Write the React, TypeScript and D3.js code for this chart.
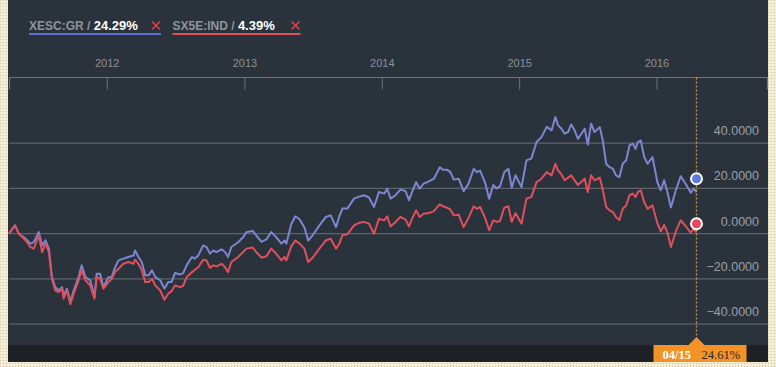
import React from 'react';
import * as d3 from 'd3';

// weekly-ish closes, % change since 2011-04-15
const dates = [
  '2011-04-15', '2011-05-01', '2011-05-11', '2011-05-29', '2011-06-11', '2011-06-20', '2011-07-03', '2011-07-12',
  '2011-07-21', '2011-07-30', '2011-08-07', '2011-08-16', '2011-08-25', '2011-09-03', '2011-09-07', '2011-09-16',
  '2011-09-25', '2011-10-04', '2011-10-17', '2011-10-25', '2011-11-04', '2011-11-17', '2011-11-28', '2011-12-04',
  '2011-12-13', '2011-12-22', '2012-01-04', '2012-01-13', '2012-01-22', '2012-01-31', '2012-02-13', '2012-02-26',
  '2012-03-11', '2012-03-15', '2012-03-24', '2012-04-02', '2012-04-11', '2012-04-20', '2012-04-29', '2012-05-08',
  '2012-05-21', '2012-06-01', '2012-06-11', '2012-06-20', '2012-06-29', '2012-07-13', '2012-07-21', '2012-07-30',
  '2012-08-13', '2012-08-21', '2012-08-30', '2012-09-12', '2012-09-21', '2012-09-30', '2012-10-09', '2012-10-17',
  '2012-10-31', '2012-11-09', '2012-11-17', '2012-11-26', '2012-12-14', '2012-12-27', '2013-01-05', '2013-01-22',
  '2013-01-31', '2013-02-14', '2013-02-27', '2013-03-12', '2013-03-25', '2013-04-08', '2013-04-16', '2013-04-21',
  '2013-05-04', '2013-05-15', '2013-05-26', '2013-06-08', '2013-06-18', '2013-06-30', '2013-07-18', '2013-08-04',
  '2013-08-17', '2013-08-31', '2013-09-09', '2013-09-17', '2013-09-30', '2013-10-18', '2013-10-31', '2013-11-14',
  '2013-11-27', '2013-12-10', '2013-12-23', '2014-01-06', '2014-01-14', '2014-01-23', '2014-02-05', '2014-02-18',
  '2014-03-04', '2014-03-13', '2014-03-21', '2014-04-01', '2014-04-10', '2014-04-21', '2014-05-05', '2014-05-18',
  '2014-06-03', '2014-06-11', '2014-06-22', '2014-07-01', '2014-07-10', '2014-07-23', '2014-08-05', '2014-08-18',
  '2014-09-01', '2014-09-09', '2014-09-18', '2014-10-02', '2014-10-12', '2014-10-23', '2014-11-01', '2014-11-10',
  '2014-11-21', '2014-12-02', '2014-12-11', '2014-12-21', '2015-01-06', '2015-01-19', '2015-02-01', '2015-02-15',
  '2015-02-28', '2015-03-14', '2015-03-27', '2015-04-06', '2015-04-13', '2015-04-22', '2015-05-01', '2015-05-10',
  '2015-05-18', '2015-05-27', '2015-06-05', '2015-06-23', '2015-07-01', '2015-07-10', '2015-07-19', '2015-08-02',
  '2015-08-10', '2015-08-19', '2015-08-28', '2015-09-06', '2015-09-14', '2015-09-23', '2015-10-02', '2015-10-11',
  '2015-10-20', '2015-10-29', '2015-11-05', '2015-11-11', '2015-11-19', '2015-11-28', '2015-12-07', '2015-12-20',
  '2016-01-02', '2016-01-11', '2016-01-20', '2016-01-29', '2016-02-07', '2016-02-20', '2016-03-04', '2016-03-17',
  '2016-03-31', '2016-04-07', '2016-04-15'
];

const xesc = [
  0, 3.7, 0, -2.2, -4.4, -3.7, 0.7, -5.2,
  -2.9, -6.6, -19.2, -23.6, -25.1, -23.6, -27.3, -24.3,
  -30.2, -25.1, -19.2, -14, -19.2, -20.6, -28, -17.7,
  -17.7, -23.6, -19.2, -19.2, -14.8, -11.8, -11, -10.3,
  -9.6, -7.4, -10.3, -12.6, -18.4, -18.4, -16.2, -19.2,
  -20.6, -24.3, -21.4, -21.4, -17.4, -18, -17.4, -14,
  -10.3, -11, -9.6, -5.2, -5.9, -8.8, -7.4, -8.1,
  -6.9, -8.1, -10.3, -5.9, -3.8, -1.6, 0.7, 1.2,
  -0.7, -3.6, -2.5, 0.7, -1.5, -4.4, -3, -4.4,
  4.2, 7.7, 6.4, 2.7, -3, -0.7, 3.7, 7.4,
  8.1, 2.9, 7.8, 11.1, 11.1, 15.5, 16.4, 17,
  15.9, 11.8, 18.4, 17.7, 19.9, 15.5, 17, 19.5,
  18.8, 14.8, 18.4, 22.8, 19.9, 22.1, 23.1, 24.3,
  29.4, 28.3, 28.3, 27.2, 23.9, 24.3, 18.8, 22,
  28.7, 27.2, 27.9, 22.1, 15.4, 21.5, 20, 21,
  27.2, 28.7, 20.3, 25.8, 20.6, 32.4, 33.2, 40.5,
  42.7, 47.2, 45.7, 51.6, 48, 46.4, 44.2, 45,
  48.3, 45.7, 41.9, 46.4, 39.4, 48.6, 44.9, 47.1,
  41.2, 30.9, 29.4, 28.7, 25.8, 25, 30.9, 32.4,
  39, 39.8, 37.5, 40.5, 41.2, 33.9, 30.9, 33.9,
  22.8, 19.2, 23.6, 18.1, 11.6, 19.2, 25.4, 22.1,
  18.1, 20, 18.4
];

const sx5e = [
  0, 3.7, 0, -2.9, -5.9, -6.6, -0.7, -8.1,
  -4.4, -8.1, -20, -25.1, -25.8, -24.3, -28.7, -25.1,
  -31.2, -26.5, -20.6, -16.2, -20.6, -22.9, -28.7, -19.2,
  -19.9, -24.3, -21.4, -19.9, -17, -15.5, -13.3, -12.5,
  -13.3, -11.5, -13.3, -16.2, -21.4, -21.4, -19.9, -22.9,
  -25.1, -29.2, -26.5, -25.4, -22.9, -23.6, -22.9, -19.2,
  -17, -15.9, -14.8, -11.5, -11.8, -15.1, -14, -14.4,
  -13.3, -14.8, -17, -12.5, -10.3, -8.1, -6.6, -6.1,
  -8.1, -10.6, -10, -6.6, -8.8, -11.8, -10.3, -11.8,
  -5.6, -3, -4.4, -6.6, -12.5, -10.6, -6.6, -3,
  -2.2, -6.6, -4.4, -0.7, -0.3, 3.7, 4.8, 5.2,
  4.4, 0, 6.6, 5.9, 7.7, 3.2, 5.2, 7.4,
  6.2, 3.2, 6.6, 10.3, 7.4, 8.8, 9.1, 10,
  13, 12.1, 11.5, 10.6, 8.1, 8.4, 2.9, 7,
  12.1, 11, 11.8, 6.6, 1.5, 5.9, 5.2, 5.6,
  11.5, 12.1, 5.2, 9.1, 4.4, 15.5, 16.2, 22.8,
  24.3, 27.2, 25.8, 30.9, 28, 26.2, 23.6, 24.8,
  25.8, 23.6, 21.5, 24.3, 18.4, 25.8, 23.6, 24.8,
  19.2, 11.8, 10.3, 9.6, 7.4, 6, 11, 12.5,
  17, 17.7, 16.2, 18.4, 19.2, 13.9, 11, 12.5,
  4.7, 1, 3.9, 0.3, -5.9, 1, 5.9, 3.4,
  0.4, 2.2, 0.5
];

const yTicks = [40, 20, 0, -20, -40];
const legendNames = ['XESC:GR', 'SX5E:IND'];
const legendValues = [24.29, 4.39];
const hoverDate = '2016-04-15';
const hoverLabel = '04/15';
const hoverValue = '24.61%';

const W = 776;
const H = 367;
const left = 8;
const right = 768;
const bottom = 362;
const axisY = 77.5;
const stripTop = 345;

const blue = '#7c87d2';
const red = '#e0505c';

const parse = d3.timeParse('%Y-%m-%d');

export default function App() {
  const xScale = d3.scaleTime()
    .domain([new Date(2011, 3, 15), new Date(2016, 9, 22)])
    .range([9, right]);
  const yScale = d3.scaleLinear()
    .domain([-40, 40])
    .range([324.2, 143.2]);

  const rows = dates.map((d, i) => ({ date: parse(d) as Date, a: xesc[i], b: sx5e[i] }));
  const lineA = d3.line<any>().x(d => xScale(d.date)).y(d => yScale(d.a));
  const lineB = d3.line<any>().x(d => xScale(d.date)).y(d => yScale(d.b));

  const years = xScale.ticks(d3.timeYear.every(1));
  const fmt = d3.format('.4f');
  const hx = xScale(parse(hoverDate) as Date);

  const sans = '"Liberation Sans", Arial, sans-serif';
  const serif = '"Liberation Serif", "Times New Roman", serif';

  const legendX = [29, 172.5];
  const legendW = [132, 128];
  const legendColors = ['#5a6cd6', '#e04f5f'];

  return (
    <svg width={W} height={H} style={{ position: 'absolute', left: 0, top: 0 }}>
      <defs>
        <pattern id="dots" width="3" height="3" patternUnits="userSpaceOnUse">
          <rect width="3" height="3" fill="#f4edd6" />
          <rect width="1" height="1" fill="#d4c59c" />
        </pattern>
      </defs>
      <rect width={W} height={H} fill="url(#dots)" />
      <rect x={left} y={0} width={right - left} height={bottom} fill="#2a323c" />
      <rect x={left} y={stripTop} width={right - left} height={bottom - stripTop} fill="#1e2226" />

      {/* legend */}
      {legendNames.map((n, i) => (
        <g key={n}>
          <text x={legendX[i]} y={30} fontFamily={sans} fontWeight="bold">
            <tspan fill="#8e959e" fontSize={12}>{n} / </tspan>
            <tspan fill="#ffffff" fontSize={13}>{legendValues[i].toFixed(2)}%</tspan>
          </text>
          <g stroke="#d8434f" strokeWidth={1.6}>
            <line x1={legendX[i] + legendW[i] - 9} y1={21.5} x2={legendX[i] + legendW[i] - 1} y2={29.5} />
            <line x1={legendX[i] + legendW[i] - 9} y1={29.5} x2={legendX[i] + legendW[i] - 1} y2={21.5} />
          </g>
          <rect x={legendX[i]} y={33} width={legendW[i]} height={2} fill={legendColors[i]} />
        </g>
      ))}

      {/* time axis */}
      <line x1={9} x2={right} y1={axisY} y2={axisY} stroke="#6b737c" strokeWidth={1.2} />
      {[9.5, right - 0.5].map(x => (
        <line key={x} x1={x} x2={x} y1={axisY} y2={axisY + 12} stroke="#6b737c" strokeWidth={1.2} />
      ))}
      {years.map(d => (
        <g key={d.getFullYear()}>
          <line x1={xScale(d)} x2={xScale(d)} y1={axisY} y2={axisY + 12} stroke="#6b737c" strokeWidth={1} />
          <text x={xScale(d)} y={67} textAnchor="middle" fontFamily={sans} fontSize={11} fill="#8a919a">
            {d.getFullYear()}
          </text>
        </g>
      ))}

      {/* grid */}
      {yTicks.map(v => (
        <g key={v}>
          <line x1={9} x2={right} y1={yScale(v)} y2={yScale(v)} stroke="#5c636c" strokeWidth={1.2} />
          <text x={759} y={yScale(v) - 8} textAnchor="end" fontFamily={sans} fontSize={12.5} fill="#9aa0a8">
            {fmt(v)}
          </text>
        </g>
      ))}

      <path d={lineA(rows) || ''} fill="none" stroke={blue} strokeWidth={2} strokeLinejoin="round" />
      <path d={lineB(rows) || ''} fill="none" stroke={red} strokeWidth={2} strokeLinejoin="round" />

      {/* hover marker */}
      <line x1={hx} x2={hx} y1={axisY} y2={338} stroke="#c59a3a" strokeWidth={1.4} strokeDasharray="2,2" />
      <circle cx={hx} cy={yScale(legendValues[0])} r={5.5} fill="#5b7be2" stroke="#ffffff" strokeWidth={2} />
      <circle cx={hx} cy={yScale(legendValues[1])} r={5.5} fill="#e8485a" stroke="#ffffff" strokeWidth={2} />

      <path d={`M${hx - 8},${stripTop} L${hx},${stripTop - 8} L${hx + 8},${stripTop} Z`} fill="#f39325" />
      <rect x={hx - 43} y={stripTop} width={93} height={bottom - stripTop} fill="#f39325" />
      <text x={hx - 34} y={358.5} fontFamily={serif} fontSize={12.5} fontWeight="bold" fill="#ffffff">{hoverLabel}</text>
      <text x={hx + 5} y={358.5} fontFamily={serif} fontSize={12.5} fill="#2a2a2a">{hoverValue}</text>
    </svg>
  );
}
